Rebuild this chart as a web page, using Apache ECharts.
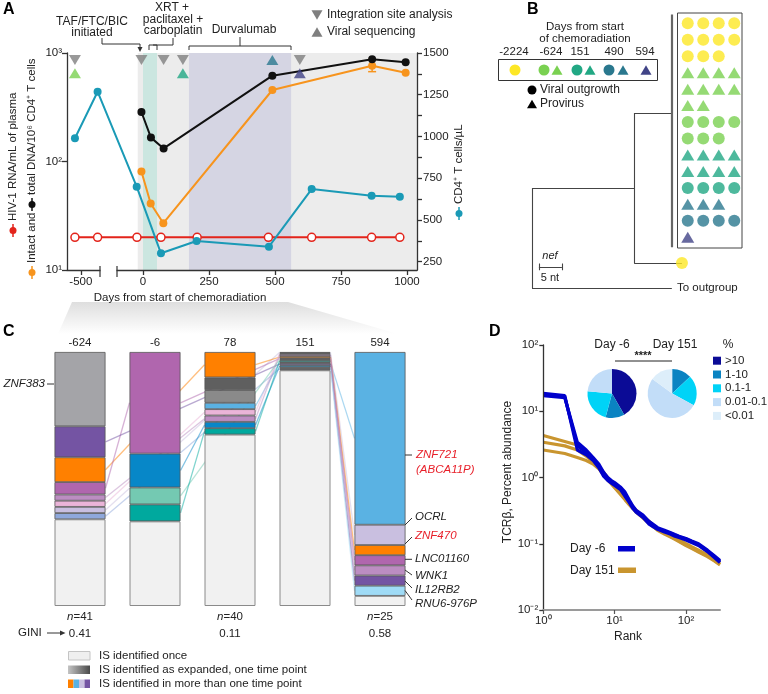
<!DOCTYPE html>
<html>
<head>
<meta charset="utf-8">
<script src="https://cdn.jsdelivr.net/npm/echarts@6.0.0/dist/echarts.min.js"></script>
<style>
html,body{margin:0;padding:0;background:#fff;}
#chart{width:768px;height:694px;}
</style>
</head>
<body>
<div id="chart"></div>
<script>
// ================= DATA =================
// ---- Panel A ----
const redDays    = [-624, -150, -23, 68, 205, 475, 639, 866, 973];
const redVals    = [20, 20, 20, 20, 20, 20, 20, 20, 20];
const blackDays  = [-6, 30, 78, 490, 868, 995];
const blackVals  = [286, 166, 132, 618, 875, 820];
const orangeDays = [-6, 29, 77, 490, 868, 995];
const orangeVals = [81, 41, 27, 456, 764, 658];
const orangeErrDays = [868];
const orangeErrLow  = [673];
const orangeErrHigh = [875];
const cd4Days = [-624, -150, -24, 68, 203, 477, 639, 866, 973];
const cd4Vals = [989, 1268, 699, 300, 374, 340, 685, 645, 639];
const isDays  = [-624, -6, 78, 151, 594];
const seqDays = [-624, 151, 490, 594];
const seqColors = ['#7ad151', '#22a884', '#2a788e', '#414487'];
const xTickDays = [-500, 0, 250, 500, 750, 1000];
const yRightLabels = [250, 500, 750, 1000, 1250, 1500];
const yRightTicks = [250, 375, 500, 625, 750, 875, 1000, 1125, 1250, 1375, 1500];
const shadeART = [-20, 1038];
const shadeXRT = [0, 53];
const shadeDurva = [174, 561];

// ---- Panel B ----
const tipRowColor = ['#fde725','#fde725','#fde725','#7ad151','#7ad151','#7ad151','#7ad151','#7ad151','#22a884','#22a884','#22a884','#2a788e','#2a788e','#414487'];
const tipRowShape = ['circle','circle','circle','triangle','triangle','triangle','circle','circle','triangle','triangle','circle','triangle','circle','triangle'];
const tipRowCount = [4, 4, 3, 4, 4, 2, 4, 3, 4, 4, 4, 3, 4, 1];
const treeNodes = [
  {id:'root', depth:0, row:16.1, parent:null},
  {id:'A', depth:22.2, row:10.0, parent:'root'},
  {id:'outgroup', depth:30.4, row:16.1, parent:'root'},
  {id:'clade', depth:30.4, row:5.45, parent:'A'},
  {id:'tip2224', depth:32.6, row:14.56, parent:'A'}
];
const cladeSpan = [-0.6, 13.6];
const scaleBarNt = 5;

// ---- Panel C ----
const cDays = ['-624', '-6', '78', '151', '594'];
const cN    = [41, 15, 40, 250, 25];
const cGini = ['0.41', '0.34', '0.11', '0.03', '0.58'];
// segments top -> bottom : [clone id, count]
const cBar0 = [['ZNF383',12],['IL12RB2',5],['ZNF470',4],['LNC01160',2],['WNK1',1],['pink',1],['OCRL',1],['peri',1],['once',14]];
const cBar1 = [['LNC01160',6],['blue2',2],['mint',1],['teal',1],['once',5]];
const cBar2 = [['ZNF470',4],['dgray',2],['mgray',2],['ZNF721',1],['pink',1],['WNK1',1],['blue2',1],['teal',1],['once',27]];
const cBar3 = [['OCRL',1],['pink',1],['WNK1',2],['ZNF470',2],['LNC01160',1],['mint',1],['teal',2],['ZNF721',1],['IL12RB2',2],['blue2',2],['RNU6',1],['peri',1],['slate',1],['once',232]];
const cBar4 = [['ZNF721',17],['OCRL',2],['ZNF470',1],['LNC01160',1],['WNK1',1],['IL12RB2',1],['RNU6',1],['once',1]];

// ---- Panel D ----
const dRanks = [1,2,3,4,5,6,7,8,9,10,12,14,16,18,20,25,30,35,40,50,60,70,80,100,120,150,200,250,300];
const dBlue1 = [17.8,16.5,3.0,2.4,1.9,1.5,1.15,0.95,0.88,0.8,0.7,0.56,0.44,0.36,0.31,0.26,0.21,0.19,0.17,0.155,0.145,0.135,0.128,0.118,0.108,0.097,0.078,0.064,0.054];
const dBlue2 = [18.6,17.2,2.6,2.2,1.8,1.4,1.05,0.9,0.82,0.76,0.66,0.52,0.42,0.34,0.3,0.25,0.2,0.18,0.165,0.15,0.14,0.13,0.124,0.114,0.104,0.094,0.076,0.062,0.052];
const dBlue3 = [17.2,16.0,3.4,2.6,2.0,1.6,1.2,1.0,0.9,0.84,0.72,0.6,0.46,0.37,0.32,0.27,0.22,0.195,0.175,0.16,0.148,0.138,0.13,0.12,0.11,0.1,0.08,0.066,0.056];
const dGold1 = [4.3,3.5,3.1,2.3,1.8,1.45,1.2,1.0,0.85,0.75,0.6,0.5,0.42,0.36,0.32,0.26,0.22,0.19,0.17,0.15,0.135,0.125,0.115,0.1,0.09,0.08,0.068,0.058,0.051];
const dGold2 = [3.4,3.0,2.6,2.1,1.7,1.4,1.15,0.95,0.82,0.72,0.58,0.48,0.4,0.35,0.31,0.25,0.21,0.18,0.165,0.145,0.13,0.12,0.11,0.096,0.087,0.077,0.066,0.056,0.049];
const dGold3 = [2.6,2.3,2.0,1.8,1.6,1.35,1.1,0.92,0.8,0.7,0.56,0.46,0.39,0.34,0.3,0.245,0.205,0.18,0.16,0.14,0.127,0.117,0.108,0.094,0.085,0.075,0.064,0.055,0.048];
const pieBins = ['>10', '1-10', '0.1-1', '0.01-0.1', '<0.01'];
const pieDayM6  = [41.7, 12.5, 22.2, 23.6, 0];
const pieDay151 = [0, 13, 20, 52, 15];

// ================= STYLE =================
const FONT = "'Liberation Sans', Arial, Helvetica, sans-serif";
const RED = '#e3241b', ORANGE = '#f7941d', CYAN = '#1a9ab6', BLACK = '#111';
const pieColors = ['#0b0b96', '#0a83c2', '#00d3f7', '#c2ddf8', '#ddeefa'];
const cloneColors = {once:'#f1f1f1', ZNF383:'#a4a4a8', dgray:'#5f5f5f', mgray:'#8a8a8a', ZNF721:'#5ab2e3',
  OCRL:'#c9bfe0', ZNF470:'#ff8000', LNC01160:'#b066ae', WNK1:'#bc8dc2', IL12RB2:'#7454a3', RNU6:'#9fdbf6',
  pink:'#eab4d8', peri:'#8fa8db', blue2:'#0787c8', mint:'#74c9b2', teal:'#00a99e', slate:'#566b9c'};
const noLink = ['once','ZNF383','dgray','mgray','slate'];

// broken x axis of panel A: left segment compressed
const AX = {min:-288, max:1038, lDayMin:-790, lDayMax:-100, lDispMin:-288, lDispMax:-163};
function xd(day){
  if (day <= AX.lDayMax) return AX.lDispMin + (day - AX.lDayMin) * (AX.lDispMax - AX.lDispMin) / (AX.lDayMax - AX.lDayMin);
  return day;
}
function dayOf(d){
  if (d <= AX.lDispMax) return AX.lDayMin + (d - AX.lDispMin) * (AX.lDayMax - AX.lDayMin) / (AX.lDispMax - AX.lDispMin);
  return d;
}
const SUP = {'-':'⁻','0':'⁰','1':'¹','2':'²','3':'³','4':'⁴','5':'⁵','6':'⁶','7':'⁷','8':'⁸','9':'⁹'};
const pow10 = v => '10' + String(Math.round(Math.log10(v))).split('').map(c => SUP[c]).join('');

// ================= HELPERS =================
function T(x, y, text, o) {
  o = o || {};
  return {type:'text', x:x, y:y, rotation:o.rot || 0, z:100, silent:true,
    style:{text:text, fill:o.color || '#222',
      font:(o.italic ? 'italic ' : 'normal ') + (o.bold ? 'bold ' : 'normal ') + (o.size || 11.5) + 'px ' + FONT,
      align:o.align || 'left', verticalAlign:o.va || 'middle'}};
}
function L(x1, y1, x2, y2, color, w) {
  return {type:'line', z:100, silent:true, shape:{x1:x1, y1:y1, x2:x2, y2:y2}, style:{stroke:color || '#333', lineWidth:w || 1}};
}
function PL(points, color, w) {
  return {type:'polyline', z:100, silent:true, shape:{points:points}, style:{stroke:color || '#333', lineWidth:w || 1, fill:null}};
}
function PG(points, color) {
  return {type:'polygon', z:100, silent:true, shape:{points:points}, style:{fill:color}};
}
function R(x, y, w, h, fill, stroke) {
  return {type:'rect', z:100, silent:true, shape:{x:x, y:y, width:w, height:h}, style:{fill:fill, stroke:stroke || null, lineWidth:stroke ? 1 : 0}};
}
function C(cx, cy, r, fill) {
  return {type:'circle', z:100, silent:true, shape:{cx:cx, cy:cy, r:r}, style:{fill:fill}};
}
function triUp(cx, cy, s, color) { return PG([[cx - s/2, cy + s*0.43], [cx + s/2, cy + s*0.43], [cx, cy - s*0.43]], color); }
function triDown(cx, cy, s, color) { return PG([[cx - s/2, cy - s*0.43], [cx + s/2, cy - s*0.43], [cx, cy + s*0.43]], color); }

// ================= SERIES =================
const series = [];

// --- Panel A ---
series.push({
  type:'line', name:'HIV-1 RNA', xAxisIndex:0, yAxisIndex:0, silent:true,
  data:redDays.map((d, i) => [xd(d), redVals[i]]),
  symbol:'circle', symbolSize:8, lineStyle:{color:RED, width:2},
  itemStyle:{color:'#fff', borderColor:RED, borderWidth:1.5},
  markArea:{silent:true, data:[
    [{xAxis:xd(shadeART[0]), itemStyle:{color:'#ececec'}}, {xAxis:xd(shadeART[1])}],
    [{xAxis:xd(shadeXRT[0]), itemStyle:{color:'#cbe6e0'}}, {xAxis:xd(shadeXRT[1])}],
    [{xAxis:xd(shadeDurva[0]), itemStyle:{color:'#d5d5e3'}}, {xAxis:xd(shadeDurva[1])}]
  ]}
});
series.push({
  type:'line', name:'CD4', xAxisIndex:0, yAxisIndex:1, silent:true,
  data:cd4Days.map((d, i) => [xd(d), cd4Vals[i]]),
  symbol:'circle', symbolSize:8, lineStyle:{color:CYAN, width:2}, itemStyle:{color:CYAN}
});
series.push({
  type:'custom', xAxisIndex:0, yAxisIndex:0, silent:true, z:3,
  data:orangeErrDays.map((d, i) => [xd(d), orangeErrLow[i], orangeErrHigh[i]]),
  encode:{x:0, y:[1, 2]},
  renderItem:function(params, api){
    const lo = api.coord([api.value(0), api.value(1)]);
    const hi = api.coord([api.value(0), api.value(2)]);
    const w = 4, st = {stroke:ORANGE, lineWidth:1.5};
    return {type:'group', children:[
      {type:'line', shape:{x1:lo[0], y1:lo[1], x2:hi[0], y2:hi[1]}, style:st},
      {type:'line', shape:{x1:lo[0]-w, y1:lo[1], x2:lo[0]+w, y2:lo[1]}, style:st},
      {type:'line', shape:{x1:hi[0]-w, y1:hi[1], x2:hi[0]+w, y2:hi[1]}, style:st}
    ]};
  }
});
series.push({
  type:'line', name:'Intact', xAxisIndex:0, yAxisIndex:0, silent:true, z:3,
  data:orangeDays.map((d, i) => [xd(d), orangeVals[i]]),
  symbol:'circle', symbolSize:8, lineStyle:{color:ORANGE, width:2}, itemStyle:{color:ORANGE}
});
series.push({
  type:'line', name:'Total', xAxisIndex:0, yAxisIndex:0, silent:true, z:4,
  data:blackDays.map((d, i) => [xd(d), blackVals[i]]),
  symbol:'circle', symbolSize:8, lineStyle:{color:BLACK, width:2}, itemStyle:{color:BLACK}
});
series.push({
  type:'scatter', xAxisIndex:0, yAxisIndex:0, silent:true, z:5,
  data:isDays.map(d => [xd(d), 860]),
  symbol:'triangle', symbolRotate:180, symbolSize:[12, 10], itemStyle:{color:'#7f7f7f'}
});
series.push({
  type:'scatter', xAxisIndex:0, yAxisIndex:0, silent:true, z:5,
  data:seqDays.map((d, i) => ({value:[xd(d), isDays.indexOf(d) >= 0 ? 650 : 860], itemStyle:{color:seqColors[i]}})),
  symbol:'triangle', symbolSize:[12, 10]
});

// --- Panel B ---
const tipData = [];
tipRowCount.forEach((n, r) => {
  for (let c = 0; c < n; c++) {
    tipData.push({value:[c, r], symbol:tipRowShape[r],
      symbolSize:tipRowShape[r] === 'triangle' ? [13, 11] : 12, itemStyle:{color:tipRowColor[r]}});
  }
});
series.push({type:'scatter', xAxisIndex:2, yAxisIndex:3, silent:true, data:tipData});

const treeLines = [];
treeNodes.forEach(n => {
  if (n.parent) {
    const p = treeNodes.find(q => q.id === n.parent);
    treeLines.push({coords:[[p.depth, n.row], [n.depth, n.row]]});
  }
});
treeNodes.forEach(p => {
  const kids = treeNodes.filter(q => q.parent === p.id);
  if (kids.length) {
    const rows = kids.map(k => k.row);
    treeLines.push({coords:[[p.depth, Math.min.apply(null, rows)], [p.depth, Math.max.apply(null, rows)]]});
  }
});
const clade = treeNodes.find(n => n.id === 'clade');
treeLines.push({coords:[[clade.depth, cladeSpan[0]], [clade.depth, cladeSpan[1]]], lineStyle:{width:2.2, color:'#666'}});
// scale bar
const sbX = 1.5, sbRow = 14.8;
treeLines.push({coords:[[sbX, sbRow], [sbX + scaleBarNt, sbRow]]});
treeLines.push({coords:[[sbX, sbRow - 0.2], [sbX, sbRow + 0.2]]});
treeLines.push({coords:[[sbX + scaleBarNt, sbRow - 0.2], [sbX + scaleBarNt, sbRow + 0.2]]});
series.push({type:'lines', coordinateSystem:'cartesian2d', xAxisIndex:1, yAxisIndex:2, silent:true, z:2,
  lineStyle:{color:'#444', width:1.1, opacity:1}, data:treeLines});
const tip = treeNodes.find(n => n.id === 'tip2224');
series.push({type:'scatter', xAxisIndex:1, yAxisIndex:2, silent:true, z:3,
  data:[[tip.depth, tip.row]], symbol:'circle', symbolSize:12, itemStyle:{color:'#fde725'}});

// --- Panel C ---
const cBars = [cBar0, cBar1, cBar2, cBar3, cBar4];
const HALF = 51 / 75 / 2;
const segInfo = cBars.map((segs, i) => {
  let cum = 0;
  return segs.slice().reverse().map(s => {
    const v = s[1] / cN[i] * 100;
    const o = {id:s[0], v:v, mid:cum + v / 2};
    cum += v;
    return o;
  });
});
const levels = Math.max.apply(null, segInfo.map(b => b.length));
for (let k = 0; k < levels; k++) {
  series.push({
    type:'bar', xAxisIndex:3, yAxisIndex:4, stack:'is', barWidth:51, z:3, silent:true,
    data:segInfo.map(b => b[k] ? {value:b[k].v, itemStyle:{color:cloneColors[b[k].id],
      borderColor:b[k].id === 'once' ? '#8a8a8a' : '#555', borderWidth:b[k].id === 'once' ? 1 : 0.8}} : '-')
  });
}
const linkData = [];
Object.keys(cloneColors).filter(id => noLink.indexOf(id) < 0).forEach(id => {
  const occ = [];
  segInfo.forEach((b, i) => { const s = b.find(o => o.id === id); if (s) occ.push([i, s.mid]); });
  for (let q = 0; q < occ.length - 1; q++) {
    linkData.push({coords:[[occ[q][0] + HALF, occ[q][1]], [occ[q+1][0] - HALF, occ[q+1][1]]],
      lineStyle:{color:cloneColors[id]}});
  }
});
series.push({type:'lines', coordinateSystem:'cartesian2d', xAxisIndex:5, yAxisIndex:4, silent:true, z:1,
  lineStyle:{width:1.3, opacity:0.5}, data:linkData});

// --- Panel D ---
[[dGold1, '#c9952f'], [dGold2, '#c9952f'], [dGold3, '#c9952f'], [dBlue1, '#0000cc'], [dBlue2, '#0000cc'], [dBlue3, '#0000cc']].forEach(p => {
  series.push({type:'line', xAxisIndex:6, yAxisIndex:5, silent:true, symbol:'none',
    lineStyle:{color:p[1], width:3.2}, data:dRanks.map((r, i) => [r, p[0][i]])});
});
function pieSeries(vals, cx) {
  return {type:'pie', silent:true, center:[cx, 393.5], radius:24.5, startAngle:90, clockwise:true,
    label:{show:false}, labelLine:{show:false}, itemStyle:{borderWidth:0},
    data:vals.map((v, i) => ({name:pieBins[i], value:v, itemStyle:{color:pieColors[i]}}))};
}
series.push(pieSeries(pieDayM6, 612));
series.push(pieSeries(pieDay151, 672.2));

// ================= GRAPHIC (text / annotations) =================
const G = [];
// connector between A and C
G.push({type:'polygon', z:0, silent:true, shape:{points:[[72,302],[288,302],[398,334],[58,334]]},
  style:{fill:new echarts.graphic.LinearGradient(0, 0, 0, 1, [{offset:0, color:'#dedede'}, {offset:1, color:'#ffffff'}])}});
// panel letters
G.push(T(3, 10, 'A', {bold:true, size:16, color:'#000'}));
G.push(T(527, 10, 'B', {bold:true, size:16, color:'#000'}));
G.push(T(3, 332, 'C', {bold:true, size:16, color:'#000'}));
G.push(T(489, 332, 'D', {bold:true, size:16, color:'#000'}));

// Panel A annotations
G.push(T(92, 22, 'TAF/FTC/BIC', {align:'center', size:12}));
G.push(T(92, 33, 'initiated', {align:'center', size:12}));
G.push(PL([[102,38],[102,44],[140,44],[140,48]], '#333', 1));
G.push(PG([[137.5,47],[142.5,47],[140,52]], '#333'));
G.push(T(172, 8, 'XRT +', {align:'center', size:12}));
G.push(T(173, 19.5, 'paclitaxel +', {align:'center', size:12}));
G.push(T(173, 31, 'carboplatin', {align:'center', size:12}));
G.push(PL([[173,38],[173,45],[153,45]], '#333', 1));
G.push(PL([[149,50],[149,45],[157,45],[157,50]], '#333', 1));
G.push(T(244, 30, 'Durvalumab', {align:'center', size:12}));
G.push(L(240, 37, 240, 46, '#333', 1));
G.push(PL([[189,50],[189,46],[291,46],[291,50]], '#333', 1));
G.push(triDown(317, 15, 11, '#7f7f7f'));
G.push(T(327, 15, 'Integration site analysis', {size:12}));
G.push(triUp(317, 32, 11, '#7f7f7f'));
G.push(T(327, 32, 'Viral sequencing', {size:12}));
// axis titles A
G.push(L(13, 224, 13, 237, RED, 1.5));
G.push(C(13, 230.5, 3.5, RED));
G.push(T(13, 221, 'HIV-1 RNA/mL of plasma', {rot:Math.PI/2, size:11.5}));
G.push(L(32, 266, 32, 279, ORANGE, 1.5));
G.push(C(32, 272.5, 3.5, ORANGE));
G.push(T(32, 263, 'Intact and', {rot:Math.PI/2, size:11.5}));
G.push(L(32, 198, 32, 211, BLACK, 1.5));
G.push(C(32, 204.5, 3.5, BLACK));
G.push(T(32, 195, 'total DNA/10⁶ CD4⁺ T cells', {rot:Math.PI/2, size:11.5}));
G.push(L(459, 207, 459, 220, CYAN, 1.5));
G.push(C(459, 213.5, 3.5, CYAN));
G.push(T(459, 204, 'CD4⁺ T cells/µL', {rot:Math.PI/2, size:11.5}));
G.push(T(180, 298, 'Days from start of chemoradiation', {align:'center', size:11.5}));
// axis break
G.push(R(100.5, 267, 16, 6, '#fff'));
G.push(L(100, 266, 100, 277, '#333', 1.2));
G.push(L(117, 266, 117, 277, '#333', 1.2));

// Panel B
G.push(T(585, 27, 'Days from start', {align:'center', size:11.5}));
G.push(T(585, 38.5, 'of chemoradiation', {align:'center', size:11.5}));
G.push(T(514, 52, '-2224', {align:'center', size:11.5}));
G.push(T(551, 52, '-624', {align:'center', size:11.5}));
G.push(T(580, 52, '151', {align:'center', size:11.5}));
G.push(T(614, 52, '490', {align:'center', size:11.5}));
G.push(T(645, 52, '594', {align:'center', size:11.5}));
G.push(R(498.5, 59.5, 159, 21, null, '#333'));
G.push(C(515, 70, 5.5, '#fde725'));
G.push(C(544, 70, 5.5, '#7ad151'));
G.push(triUp(557, 70, 11, '#7ad151'));
G.push(C(577, 70, 5.5, '#22a884'));
G.push(triUp(590, 70, 11, '#22a884'));
G.push(C(609, 70, 5.5, '#2a788e'));
G.push(triUp(623, 70, 11, '#2a788e'));
G.push(triUp(646, 70, 11, '#414487'));
G.push(C(532, 90, 4.5, '#000'));
G.push(T(540, 90, 'Viral outgrowth', {size:12}));
G.push(triUp(532, 104, 10, '#000'));
G.push(T(540, 104, 'Provirus', {size:12}));
G.push(R(677.5, 13, 64.5, 235, null, '#444'));
G.push(T(550, 256, 'nef', {align:'center', italic:true, size:11}));
G.push(T(550, 278, '5 nt', {align:'center', size:11}));
G.push(T(677, 288, 'To outgroup', {size:11.5}));

// Panel C
G.push(T(45, 384, 'ZNF383', {align:'right', italic:true, size:11.5}));
G.push(L(47, 384, 54, 384, '#333', 1));
G.push(L(405, 455, 412, 455, '#333', 1));
G.push(T(416, 455, 'ZNF721', {italic:true, size:11.5, color:'#e8202a'}));
G.push(T(416, 469.5, '(ABCA11P)', {italic:true, size:11.5, color:'#e8202a'}));
const c5Labels = [['OCRL', 517, 525, 518, '#222'], ['ZNF470', 535.5, 544, 537, '#e8202a'], ['LNC01160', 559, 559.3, 559.3, '#222'],
  ['WNK1', 576, 570, 575, '#222'], ['IL12RB2', 590, 581, 588, '#222'], ['RNU6-976P', 603.5, 590.5, 600, '#222']];
c5Labels.forEach(a => {
  G.push(L(405, a[2], 412, a[3], '#333', 1));
  G.push(T(415, a[1], a[0], {italic:true, size:11.5, color:a[4]}));
});
G.push(T(18, 633, 'GINI', {size:11.5}));
G.push(L(47, 633, 61, 633, '#333', 1));
G.push(PG([[60,630.5],[65.5,633],[60,635.5]], '#333'));
G.push(R(68.5, 651.5, 21.5, 8.5, '#efefef', '#c4c4c4'));
G.push({type:'rect', z:100, silent:true, shape:{x:68, y:665.5, width:22, height:8.5},
  style:{fill:new echarts.graphic.LinearGradient(0, 0, 1, 0, [{offset:0, color:'#c4c4c4'}, {offset:1, color:'#4a4a4a'}])}});
['#ff8000', '#5ab2e3', '#c9bfe0', '#7454a3'].forEach((c, i) => G.push(R(68 + i * 5.5, 679.5, 5.5, 8.5, c)));
G.push(T(99, 656, 'IS identified once', {size:11.5}));
G.push(T(99, 670, 'IS identified as expanded, one time point', {size:11.5}));
G.push(T(99, 684, 'IS identified in more than one time point', {size:11.5}));

// Panel D
G.push(T(508, 472, 'TCRβ, Percent abundance', {rot:Math.PI/2, align:'center', size:12}));
G.push(T(628, 637, 'Rank', {align:'center', size:12}));
G.push(T(612, 345, 'Day -6', {align:'center', size:12}));
G.push(T(675, 345, 'Day 151', {align:'center', size:12}));
G.push(L(615, 361, 672, 361, '#222', 1));
G.push(T(643, 356, '****', {align:'center', size:11, bold:true}));
G.push(T(728, 345, '%', {align:'center', size:12}));
pieBins.forEach((b, i) => {
  const y = 360.7 + i * 13.8;
  G.push(R(713, y - 4, 8, 8, pieColors[i]));
  G.push(T(725, y, b, {size:11.5}));
});
G.push(T(570, 549, 'Day -6', {size:12}));
G.push(R(618, 546, 17, 5.5, '#0000cc'));
G.push(T(570, 570.5, 'Day 151', {size:12}));
G.push(R(618, 567.5, 18, 5.5, '#c9952f'));

// ================= AXES =================
const axLine = {show:true, onZero:false, lineStyle:{color:'#333', width:1.3}};
const tickSt = {color:'#333', width:1.3};
const lblSt = {fontSize:11.5, color:'#222', fontFamily:FONT};

const option = {
  animation:false,
  textStyle:{fontFamily:FONT},
  grid:[
    {left:67, top:53, width:350, height:217},
    {left:532, top:15.07, width:210, height:279.8},
    {left:680, top:15.07, width:62, height:230.44},
    {left:42.5, top:352, width:375, height:254},
    {left:543.3, top:345, width:176.7, height:265}
  ].map(g => Object.assign({containLabel:false, outerBoundsMode:'none'}, g)),
  xAxis:[
    {gridIndex:0, type:'value', min:AX.min, max:AX.max, splitLine:{show:false}, axisLine:axLine, z:5,
      axisTick:{show:true, length:5, customValues:xTickDays.map(xd), lineStyle:tickSt},
      axisLabel:Object.assign({customValues:xTickDays.map(xd), margin:6, formatter:v => String(Math.round(dayOf(v)))}, lblSt)},
    {gridIndex:1, type:'value', min:0, max:210 / 4.6, show:false},
    {gridIndex:2, type:'category', data:['c0','c1','c2','c3'], show:false},
    {gridIndex:3, type:'category', data:cDays, position:'top', axisLine:{show:false}, axisTick:{show:false},
      axisLabel:Object.assign({margin:3}, lblSt)},
    {gridIndex:3, type:'category', data:cDays, position:'bottom', axisLine:{show:false}, axisTick:{show:false},
      axisLabel:{margin:2, color:'#222',
        formatter:(v, i) => '{it|n}{rg|=' + cN[i] + '}\n{rg|' + cGini[i] + '}',
        rich:{it:{fontStyle:'italic', fontSize:11.5, lineHeight:17, fontFamily:FONT, color:'#222'},
              rg:{fontSize:11.5, lineHeight:17, fontFamily:FONT, color:'#222'}}}},
    {gridIndex:3, type:'value', min:-0.5, max:4.5, show:false},
    {gridIndex:4, type:'log', logBase:10, min:1, max:300, splitLine:{show:false}, z:5,
      axisLine:{show:true, onZero:false, lineStyle:{color:'#9a9a9a', width:2}},
      axisTick:{show:true, length:4, customValues:[1, 10, 100], lineStyle:{color:'#555', width:1.2}},
      axisLabel:Object.assign({customValues:[1, 10, 100], margin:5, formatter:pow10}, lblSt)}
  ],
  yAxis:[
    {gridIndex:0, type:'log', logBase:10, min:10, max:1000, position:'left', splitLine:{show:false}, axisLine:axLine, z:5,
      axisTick:{show:true, length:5, lineStyle:tickSt},
      axisLabel:Object.assign({margin:5, formatter:pow10}, lblSt)},
    {gridIndex:0, type:'value', min:200, max:1500, position:'right', splitLine:{show:false}, axisLine:axLine, z:5,
      axisTick:{show:true, length:5, customValues:yRightTicks, lineStyle:tickSt},
      axisLabel:Object.assign({customValues:yRightLabels, margin:6, formatter:v => String(v)}, lblSt)},
    {gridIndex:1, type:'value', min:-0.5, max:16.5, inverse:true, show:false},
    {gridIndex:2, type:'value', min:-0.5, max:13.5, inverse:true, show:false},
    {gridIndex:3, type:'value', min:0, max:100, show:false},
    {gridIndex:4, type:'log', logBase:10, min:0.01, max:100, splitLine:{show:false}, z:5,
      axisLine:{show:true, onZero:false, lineStyle:{color:'#333', width:1.3}},
      axisTick:{show:true, length:4, lineStyle:tickSt},
      axisLabel:Object.assign({margin:5, formatter:pow10}, lblSt)}
  ],
  series:series,
  graphic:{elements:G}
};

const chart = echarts.init(document.getElementById('chart'), null, {renderer:'canvas', width:768, height:694});
chart.setOption(option);
</script>
</body>
</html>
